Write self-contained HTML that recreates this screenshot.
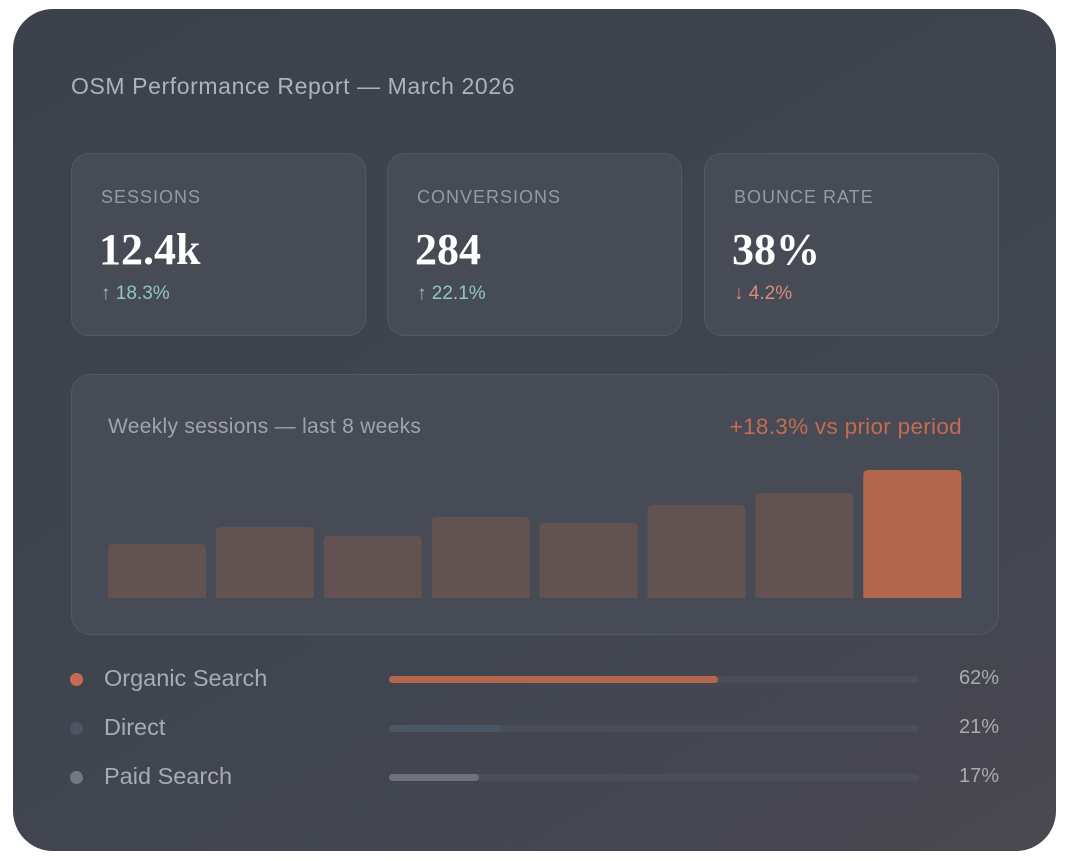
<!DOCTYPE html>
<html><head><meta charset="utf-8"><style>
*{box-sizing:border-box;margin:0;padding:0}
body{width:1065px;height:861px;background:#fff;font-family:"Liberation Sans",sans-serif;position:relative;overflow:hidden}
.card{position:absolute;left:13px;top:9px;width:1043px;height:842px;border-radius:40px;background:linear-gradient(150deg,#3c414c 0%,#40454f 60%,#4a4750 100%)}
.title{position:absolute;left:58px;top:64px;font-size:23px;letter-spacing:0.6px;color:#aeb2b9}
.kpi{position:absolute;top:144px;width:295px;height:183px;border-radius:18px;background:#464b55;border:1.5px solid #535863}
.kpi .lab{position:absolute;left:29px;top:33px;font-size:18px;letter-spacing:1px;color:#969aa2}
.kpi .val{position:absolute;left:27px;top:70px;font-family:"Liberation Serif",serif;font-weight:bold;font-size:44px;color:#fff}
.kpi .chg{position:absolute;left:29px;top:129px;font-size:19px}
.panel{position:absolute;left:58px;top:365px;width:928px;height:261px;border-radius:20px;background:#464b55;border:1.5px solid #535863}
.row{position:absolute;left:58px;font-size:23.5px;color:#a7abb2}
.dot{position:absolute;width:13px;height:13px;border-radius:50%}
.track{position:absolute;left:376px;width:530px;height:7px;border-radius:4px;background:#4a4e58}
.pct{position:absolute;right:57px;font-size:20px;color:#a7abb2}
</style></head><body>
<div class="card">
<div class="title">OSM Performance Report — March 2026</div>
<div class="kpi" style="left:58px"><div class="lab">SESSIONS</div><div class="val">12.4k</div><div class="chg" style="color:#8fc9bf">↑ 18.3%</div></div>
<div class="kpi" style="left:374px"><div class="lab">CONVERSIONS</div><div class="val">284</div><div class="chg" style="color:#8fc9bf">↑ 22.1%</div></div>
<div class="kpi" style="left:691px"><div class="lab">BOUNCE RATE</div><div class="val">38%</div><div class="chg" style="color:#e08a7c">↓ 4.2%</div></div>
<div class="panel">
<div style="position:absolute;left:36px;top:40px;font-size:21px;letter-spacing:0.3px;color:#a0a4ab">Weekly sessions — last 8 weeks</div>
<div style="position:absolute;right:36px;top:39px;font-size:22.5px;letter-spacing:0.3px;color:#c46b52">+18.3% vs prior period</div>
<svg id="chart" width="928" height="261" style="position:absolute;left:-1.5px;top:-1.5px"></svg>
</div>
<div id="rows"></div>
</div>
<script>
const weeks=["W1","W2","W3","W4","W5","W6","W7","W8"];
const sessions=[1.27,1.67,1.46,1.91,1.77,2.19,2.47,3.01];
const yMax=3.01;
const svg=document.getElementById('chart');
const base=224,hMax=128;
const x=i=>37+i*107.9, y=v=>base-v/yMax*hMax;
weeks.forEach((w,i)=>{
 const v=sessions[i],top=y(v),h=base-top,bx=x(i),bw=98,r=5;
 const p=document.createElementNS('http://www.w3.org/2000/svg','path');
 p.setAttribute('d',`M${bx},${base}V${top+r}Q${bx},${top} ${bx+r},${top}H${bx+bw-r}Q${bx+bw},${top} ${bx+bw},${top+r}V${base}Z`);
 p.setAttribute('fill',i===weeks.length-1?'#b4674f':'#625352');
 
 
 svg.appendChild(p);
});
const channels=["Organic Search","Direct","Paid Search"];
const shares=[62,21,17];
const dotColors=["#c46b52","#4b5563","#737780"];
const fillColors=["#b4674f","#4b5664","#6d727b"];
const rows=document.getElementById('rows');
channels.forEach((c,i)=>{
 const cy=670+i*49;
 const d=document.createElement('div');d.className='dot';d.style.left='57px';d.style.top=(cy-6.5)+'px';d.style.background=dotColors[i];
 
 
 rows.appendChild(d);
 const l=document.createElement('div');l.className='row';l.style.left='91px';l.style.top=(cy-14)+'px';l.textContent=c;
 
 
 rows.appendChild(l);
 const t=document.createElement('div');t.className='track';t.style.top=(cy-3.5)+'px';
 
 
 const f=document.createElement('div');f.style.cssText=`height:100%;border-radius:4px;background:${fillColors[i]};width:${shares[i]}%`;
 
 
 t.appendChild(f);rows.appendChild(t);
 const p=document.createElement('div');p.className='pct';p.style.top=(cy-12)+'px';p.textContent=shares[i]+'%';
 
 
 rows.appendChild(p);
});
</script>
</body></html>
